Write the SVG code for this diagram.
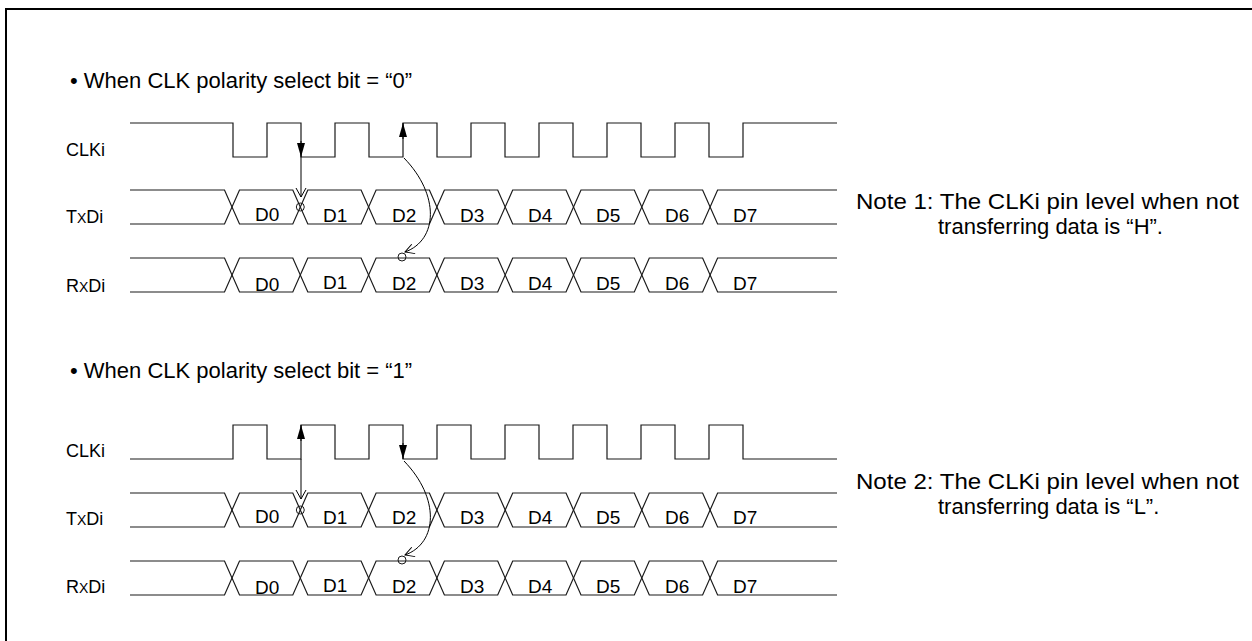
<svg xmlns="http://www.w3.org/2000/svg" width="1252" height="641" viewBox="0 0 1252 641">
<style>
.w{fill:none;stroke:#1a1a1a;stroke-width:1.2}
.t{font-family:"Liberation Sans",Arial,sans-serif;fill:#000}
.lbl{font-size:18px}
.sm{font-size:14px}
.d{font-size:19px}
.ttl{font-size:22px}
.note{font-size:22px}
.c{fill:none;stroke:#1a1a1a;stroke-width:1}
.ln{fill:none;stroke:#000;stroke-width:1}
.frame{fill:none;stroke:#000;stroke-width:2}
</style>
<defs>
<marker id="fh" markerUnits="userSpaceOnUse" viewBox="0 0 14 8" refX="14" refY="4" markerWidth="14" markerHeight="8" orient="auto"><path d="M0,0 L14,4 L0,8 z" fill="#000"/></marker>
<marker id="oh" markerUnits="userSpaceOnUse" viewBox="0 0 10 10" refX="9" refY="5" markerWidth="10" markerHeight="10" orient="auto" overflow="visible"><path d="M0,0 L9,5 L0,10" fill="none" stroke="#000" stroke-width="1"/></marker>
<path id="clkH" class="w" d="M130,0 H233 V34 H267 V0 H301 V34 H335 V0 H369 V34 H403 V0 H437 V34 H471 V0 H505 V34 H539 V0 H573 V34 H607 V0 H641 V34 H675 V0 H709 V34 H743 V0 H837"/>
<path id="clkL" class="w" d="M130,34 H233 V0 H267 V34 H301 V0 H335 V34 H369 V0 H403 V34 H437 V0 H471 V34 H505 V0 H539 V34 H573 V0 H607 V34 H641 V0 H675 V34 H709 V0 H743 V34 H837"/>
<g id="bus">
<path class="w" d="M130,0 H224.5 L239.5,34 H292.8 L307.8,0 H361.1 L376.1,34 H429.4 L444.4,0 H497.7 L512.7,34 H566 L581,0 H634.3 L649.3,34 H702.6 L717.6,0 H837"/>
<path class="w" d="M130,34 H224.5 L239.5,0 H292.8 L307.8,34 H361.1 L376.1,0 H429.4 L444.4,34 H497.7 L512.7,0 H566 L581,34 H634.3 L649.3,0 H702.6 L717.6,34 H837"/>
</g>
</defs>

<path id="frame" class="frame" d="M6,641 V9 H1252"/>

<g id="section1">
<text id="title1" class="t ttl" x="70" y="88">• When CLK polarity select bit = “0”</text>
<g id="s1-clk">
<text class="t lbl" x="66" y="156">CLKi</text>
<use href="#clkH" y="123"/>
</g>
<g id="s1-txd">
<text class="t lbl" x="66" y="223">T<tspan class="sm">X</tspan>Di</text>
<use href="#bus" y="190"/>
<g class="t d">
<text x="255" y="221">D0</text><text x="323" y="222">D1</text><text x="392" y="222">D2</text><text x="460" y="222">D3</text><text x="528" y="222">D4</text><text x="596" y="222">D5</text><text x="665" y="222">D6</text><text x="733" y="222">D7</text>
</g>
</g>
<g id="s1-rxd">
<text class="t lbl" x="66" y="292">R<tspan class="sm">X</tspan>Di</text>
<use href="#bus" y="258"/>
<g class="t d">
<text x="255" y="291">D0</text><text x="323" y="289">D1</text><text x="392" y="290">D2</text><text x="460" y="290">D3</text><text x="528" y="290">D4</text><text x="596" y="290">D5</text><text x="665" y="290">D6</text><text x="733" y="290">D7</text>
</g>
</g>
<g id="note1" class="t note">
<text x="856" y="209" textLength="383" lengthAdjust="spacingAndGlyphs">Note 1: The CLKi pin level when not</text>
<text x="938" y="234">transferring data is “H”.</text>
</g>
</g>

<g id="section2">
<text id="title2" class="t ttl" x="70" y="378">• When CLK polarity select bit = “1”</text>
<g id="s2-clk">
<text class="t lbl" x="66" y="457">CLKi</text>
<use href="#clkL" y="425"/>
</g>
<g id="s2-txd">
<text class="t lbl" x="66" y="525">T<tspan class="sm">X</tspan>Di</text>
<use href="#bus" y="493"/>
<g class="t d">
<text x="255" y="523">D0</text><text x="323" y="524">D1</text><text x="392" y="524">D2</text><text x="460" y="524">D3</text><text x="528" y="524">D4</text><text x="596" y="524">D5</text><text x="665" y="524">D6</text><text x="733" y="524">D7</text>
</g>
</g>
<g id="s2-rxd">
<text class="t lbl" x="66" y="593">R<tspan class="sm">X</tspan>Di</text>
<use href="#bus" y="561"/>
<g class="t d">
<text x="255" y="594">D0</text><text x="323" y="592">D1</text><text x="392" y="593">D2</text><text x="460" y="593">D3</text><text x="528" y="593">D4</text><text x="596" y="593">D5</text><text x="665" y="593">D6</text><text x="733" y="593">D7</text>
</g>
</g>
<g id="note2" class="t note">
<text x="856" y="489" textLength="383" lengthAdjust="spacingAndGlyphs">Note 2: The CLKi pin level when not</text>
<text x="938" y="514">transferring data is “L”.</text>
</g>
</g>

<g id="connectors">
<path class="ln" d="M301,141 V157" marker-end="url(#fh)"/>
<path class="ln" d="M301,157 V197" marker-end="url(#oh)"/>
<circle class="c" cx="300.3" cy="207" r="4"/>
<path class="ln" d="M403,139 V123" marker-end="url(#fh)"/>
<path class="ln" d="M404,158 C440,195 438,240 405,252" marker-end="url(#oh)"/>
<circle class="c" cx="402" cy="257" r="4"/>

<path class="ln" d="M301,441 V425" marker-end="url(#fh)"/>
<path class="ln" d="M301,459 V499" marker-end="url(#oh)"/>
<circle class="c" cx="300.3" cy="510" r="4"/>
<path class="ln" d="M403,443 V459" marker-end="url(#fh)"/>
<path class="ln" d="M404,461 C440,498 438,543 405,555" marker-end="url(#oh)"/>
<circle class="c" cx="402" cy="560" r="4"/>
</g>
</svg>
